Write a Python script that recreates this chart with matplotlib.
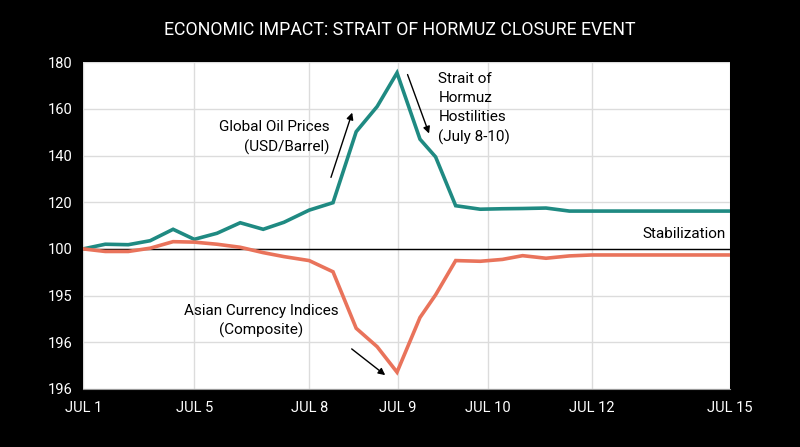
import matplotlib.pyplot as plt

plt.rcParams['font.family'] = ['Roboto', 'DejaVu Sans']

# data (x = position along the time axis, in plot steps)
x_pos = [0, 0.99, 2.02, 3.0, 4.03, 4.98, 6.0, 7.04, 8.07, 9.0, 10.13, 11.2,
         12.24, 13.18, 14.07, 15.1, 15.8, 16.7, 17.8, 18.8, 19.7, 20.75,
         21.8, 22.8, 29]
oil = [100, 102, 101.8, 103.5, 108.4, 104.1, 106.7, 111.2, 108.4, 111.4,
       116.6, 119.8, 150.2, 161, 175.4, 147, 139.4, 118.5, 117.0, 117.2,
       117.3, 117.5, 116.2, 116.2, 116.2]
currency = [100, 98.9, 98.9, 100.3, 103.1, 102.9, 102.0, 100.7, 98.4, 96.7,
            95, 90.2, 66, 58.1, 47.2, 70.6, 80.3, 95, 94.7, 95.5, 97.1,
            96.0, 97.0, 97.4, 97.4]

x_ticks = [0, 4.98, 10.13, 14.12, 18.15, 22.8, 29]
x_labels = ['JUL 1', 'JUL 5', 'JUL 8', 'JUL 9', 'JUL 10', 'JUL 12', 'JUL 15']
y_ticks = [40, 60, 80, 100, 120, 140, 160, 180]
y_labels = ['196', '196', '195', '100', '120', '140', '160', '180']

teal = '#1f8a82'
salmon = '#e9735b'

fig = plt.figure(figsize=(8, 4.47), dpi=100, facecolor='black')
ax = fig.add_axes([0.104, 0.1298, 0.8085, 0.7312])
ax.set_facecolor('white')

ax.plot(x_pos, oil, color=teal, lw=2.6, solid_joinstyle='miter', zorder=3)
ax.plot(x_pos, currency, color=salmon, lw=2.6, solid_joinstyle='miter', zorder=3)
ax.axhline(100, color='black', lw=1.0, zorder=2)

ax.set_xlim(0, 29)
ax.set_ylim(40, 180)
ax.set_xticks(x_ticks)
ax.set_xticklabels(x_labels)
ax.set_yticks(y_ticks)
ax.set_yticklabels(y_labels)
ax.tick_params(colors='white', labelsize=10.5, length=0)
ax.tick_params(axis='x', pad=9)
ax.tick_params(axis='y', pad=8)
ax.grid(True, color='#dcdcdc', lw=1.0, zorder=0)
for s in ax.spines.values():
    s.set_visible(False)
ax.spines['bottom'].set_visible(True)
ax.spines['bottom'].set_color('#999999')

fig.text(0.5, 0.932, 'ECONOMIC IMPACT: STRAIT OF HORMUZ CLOSURE EVENT',
         color='white', fontsize=12.8, ha='center', va='center')

# annotations
ax.text(11.05, 155, 'Global Oil Prices\n(USD/Barrel)', ha='right', va='top',
        fontsize=11, linespacing=1.45)
ax.annotate('', xy=(12.1, 159.5), xytext=(11.07, 129.5),
            arrowprops=dict(arrowstyle='-|>', color='black', lw=1.0))

ax.text(15.92, 175.8, 'Strait of\nHormuz\nHostilities\n(July 8-10)', ha='left',
        va='top', fontsize=11, linespacing=1.45)
ax.annotate('', xy=(15.55, 148.3), xytext=(14.5, 175.8),
            arrowprops=dict(arrowstyle='-|>', color='black', lw=1.0))

ax.text(28.8, 106.2, 'Stabilization', ha='right', va='center', fontsize=11)

ax.text(7.97, 76.5, 'Asian Currency Indices\n(Composite)', ha='center',
        va='top', fontsize=11, linespacing=1.45)
ax.annotate('', xy=(13.64, 45.2), xytext=(11.94, 57.9),
            arrowprops=dict(arrowstyle='-|>', color='black', lw=1.0))

fig.savefig('out.png', dpi=100, facecolor='black')
